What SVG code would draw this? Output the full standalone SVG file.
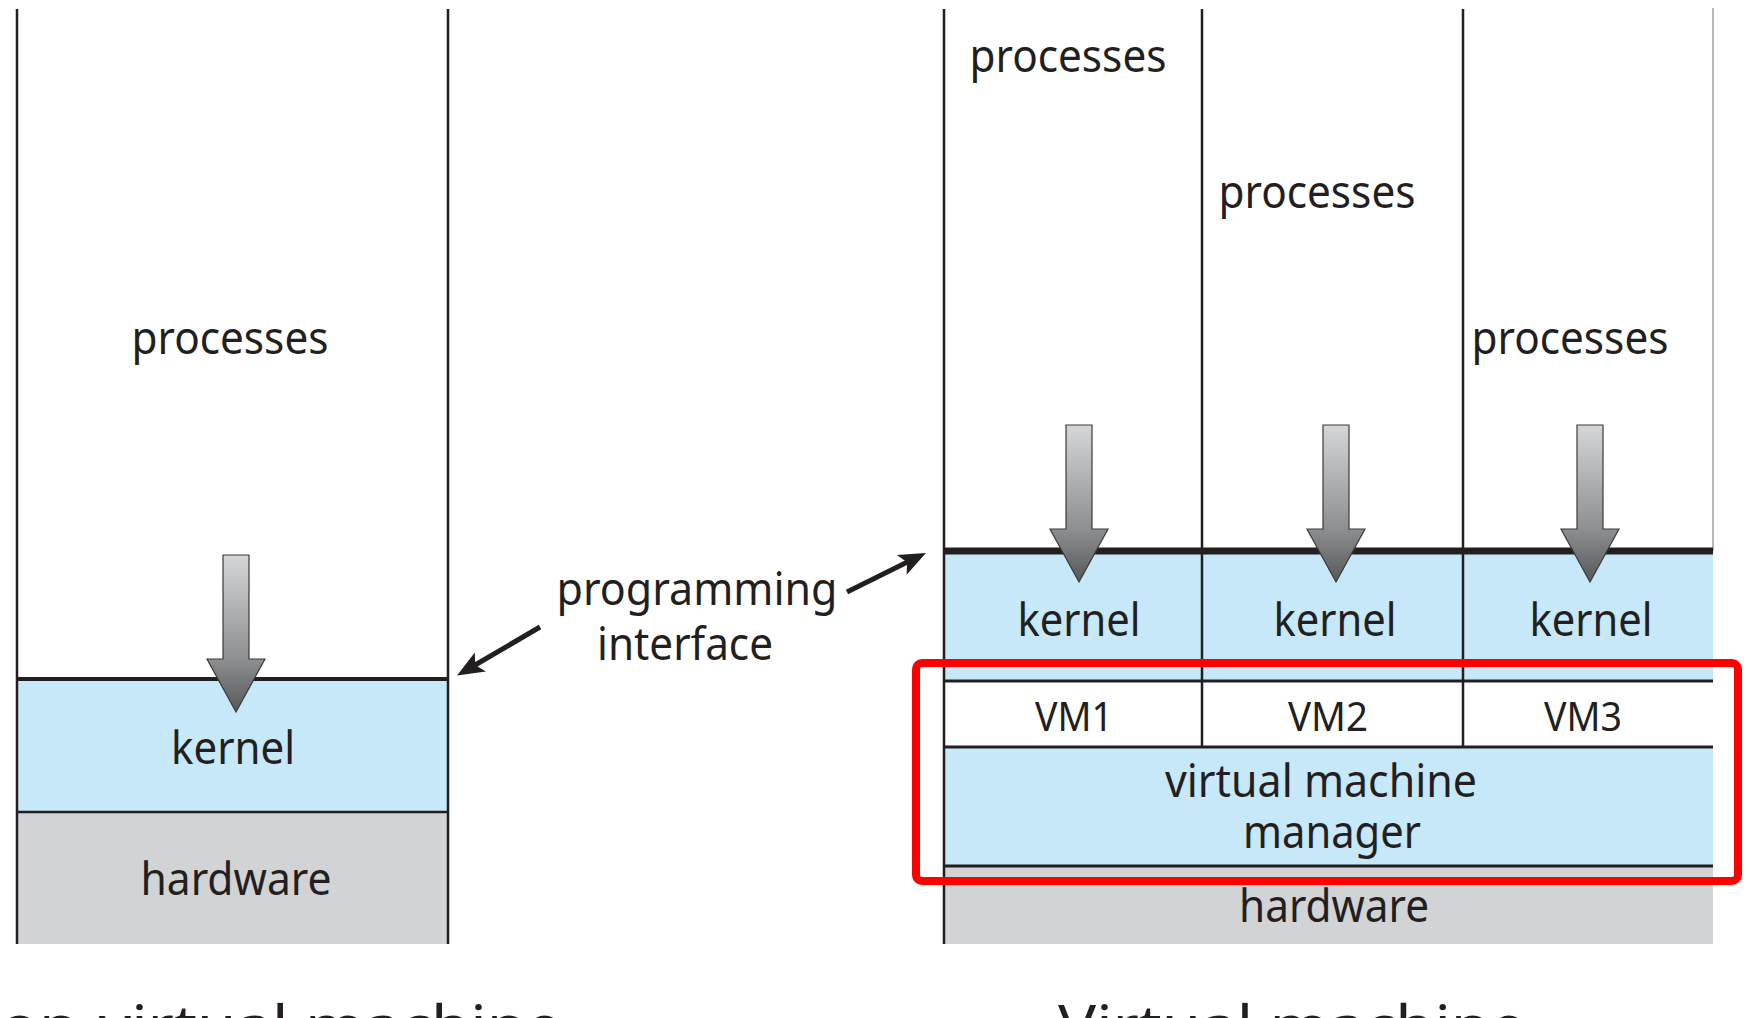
<svg xmlns="http://www.w3.org/2000/svg" width="1748" height="1018" viewBox="0 0 1748 1018">
<style>
.t{font-family:"Noto Sans","Open Sans","Liberation Sans",sans-serif;font-size:45px;fill:#231f20;text-anchor:middle}
.vm{font-size:40px}
.cap{font-size:56px}
.ln{stroke:#231f20;stroke-width:2.5;fill:none}
.w3{stroke-width:3}
.w4{stroke-width:4}
.w7{stroke-width:7}
.blue{fill:#c6e8f8}
.gray{fill:#d1d3d4}
.ptr{stroke:#231f20;stroke-width:5;fill:none;marker-end:url(#ah)}
.flow{fill:url(#g);stroke:#3a3a3a;stroke-width:1.2}
</style>
<defs>
<linearGradient id="g" x1="0" y1="0" x2="0" y2="1">
<stop offset="0" stop-color="#d5d6d7"/>
<stop offset="0.66" stop-color="#8e8f90"/>
<stop offset="1" stop-color="#575859"/>
</linearGradient>
<marker id="ah" markerUnits="userSpaceOnUse" markerWidth="40" markerHeight="40" refX="0" refY="0" viewBox="-20 -20 40 40" orient="auto" overflow="visible">
<path d="M15,0 L-12,-11 L-6,0 L-12,11 Z" fill="#231f20"/>
</marker>
<path id="fa" d="M-13,0 H13 V104 H29 L0,157 L-29,104 H-13 Z"/>
</defs>
<rect width="1748" height="1018" fill="#fff"/>

<g id="nonvirtual">
<g id="nv-kernel">
<rect class="blue" x="17" y="679" width="431" height="133"/>
<text class="t" x="233" y="764" textLength="124" lengthAdjust="spacingAndGlyphs">kernel</text>
</g>
<g id="nv-hardware">
<rect class="gray" x="17" y="812" width="431" height="132"/>
<text class="t" x="236" y="895" textLength="191" lengthAdjust="spacingAndGlyphs">hardware</text>
</g>
<g id="nv-processes">
<text class="t" x="230" y="354" textLength="197" lengthAdjust="spacingAndGlyphs">processes</text>
</g>
<line class="ln" x1="17" y1="9" x2="17" y2="944"/>
<line class="ln" x1="448" y1="9" x2="448" y2="944"/>
<line class="ln w4" x1="17" y1="679" x2="448" y2="679"/>
<line class="ln" x1="17" y1="812" x2="448" y2="812"/>
</g>

<g id="virtual">
<g id="v-kernels">
<rect class="blue" x="944" y="551" width="769" height="130"/>
<text class="t" x="1079" y="636" textLength="123" lengthAdjust="spacingAndGlyphs">kernel</text>
<text class="t" x="1335" y="636" textLength="123" lengthAdjust="spacingAndGlyphs">kernel</text>
<text class="t" x="1591" y="636" textLength="123" lengthAdjust="spacingAndGlyphs">kernel</text>
</g>
<g id="v-vms">
<rect x="944" y="681" width="769" height="66" fill="#fff"/>
<text class="t vm" x="1074" y="731" textLength="78" lengthAdjust="spacingAndGlyphs">VM1</text>
<text class="t vm" x="1328" y="731" textLength="80" lengthAdjust="spacingAndGlyphs">VM2</text>
<text class="t vm" x="1583" y="731" textLength="78" lengthAdjust="spacingAndGlyphs">VM3</text>
</g>
<g id="v-vmm">
<rect class="blue" x="944" y="747" width="769" height="119"/>
<text class="t" x="1321" y="797" textLength="312" lengthAdjust="spacingAndGlyphs">virtual machine</text>
<text class="t" x="1332" y="848" textLength="178" lengthAdjust="spacingAndGlyphs">manager</text>
</g>
<g id="v-hardware">
<rect class="gray" x="944" y="866" width="769" height="78"/>
<text class="t" x="1334" y="922" textLength="190" lengthAdjust="spacingAndGlyphs">hardware</text>
</g>
<g id="v-processes">
<text class="t" x="1068" y="72" textLength="197" lengthAdjust="spacingAndGlyphs">processes</text>
<text class="t" x="1317" y="208" textLength="197" lengthAdjust="spacingAndGlyphs">processes</text>
<text class="t" x="1570" y="354" textLength="197" lengthAdjust="spacingAndGlyphs">processes</text>
</g>
<line class="ln" x1="944" y1="9" x2="944" y2="944"/>
<line class="ln" x1="1202" y1="9" x2="1202" y2="747"/>
<line class="ln" x1="1463" y1="9" x2="1463" y2="747"/>
<line x1="1713" y1="8" x2="1713" y2="551" stroke="#a0a0a0" stroke-width="1.5"/>
<line class="ln w7" x1="944" y1="551" x2="1713" y2="551"/>
<line class="ln w3" x1="944" y1="681" x2="1713" y2="681"/>
<line class="ln w3" x1="944" y1="747" x2="1713" y2="747"/>
<line class="ln w3" x1="944" y1="866" x2="1713" y2="866"/>
</g>

<g id="highlight">
<rect x="916" y="663" width="822" height="218" rx="6" fill="none" stroke="#ff0000" stroke-width="8"/>
</g>

<g id="label-programming-interface">
<text class="t" x="697" y="605" textLength="281" lengthAdjust="spacingAndGlyphs">programming</text>
<text class="t" x="685" y="660" textLength="176" lengthAdjust="spacingAndGlyphs">interface</text>
</g>

<g id="connectors">
<line class="ptr" x1="540" y1="627" x2="470" y2="668"/>
<line class="ptr" x1="847" y1="592" x2="912.5" y2="559.6"/>
<use href="#fa" class="flow" transform="translate(236,555)"/>
<use href="#fa" class="flow" transform="translate(1079,425)"/>
<use href="#fa" class="flow" transform="translate(1336,425)"/>
<use href="#fa" class="flow" transform="translate(1590,425)"/>
</g>

<g id="captions">
<text class="t cap" x="562" y="1046" style="text-anchor:end" textLength="610" lengthAdjust="spacingAndGlyphs">Non-virtual machine</text>
<text class="t cap" x="1292" y="1046" textLength="468" lengthAdjust="spacingAndGlyphs">Virtual machine</text>
</g>
</svg>
